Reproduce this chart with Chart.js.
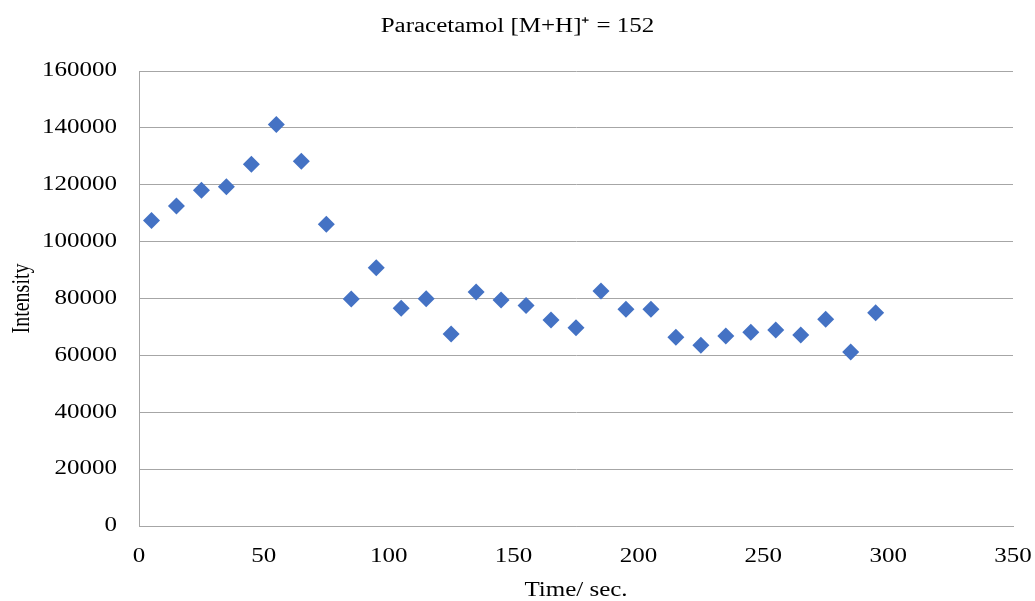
<!DOCTYPE html>
<html>
<head>
<meta charset="utf-8">
<script src="https://cdn.jsdelivr.net/npm/chart.js@4.4.1/dist/chart.umd.min.js"></script>
<style>
html,body{margin:0;padding:0;background:#fff;}
#wrap{width:1035px;height:601px;position:relative;}
</style>
</head>
<body>
<div id="wrap"><canvas id="c" width="1035" height="601"></canvas></div>
<script>
const timeSec = [5, 15, 25, 35, 45, 55, 65, 75, 85, 95, 105, 115, 125, 135, 145, 155, 165, 175, 185, 195, 205, 215, 225, 235, 245, 255, 265, 275, 285, 295];
const intensity = [107400, 112500, 118100, 119300, 127200, 141200, 128300, 106100, 79800, 90800, 76600, 79900, 67500, 82300, 79500, 77500, 72400, 69700, 82600, 76200, 76200, 66400, 63600, 66800, 68100, 68900, 67200, 72700, 61200, 75000];
const xTicks = [0, 50, 100, 150, 200, 250, 300, 350];
const yTicks = [0, 20000, 40000, 60000, 80000, 100000, 120000, 140000, 160000];
const chartTitle = 'Paracetamol [M+H]\u207A = 152';
const xTitle = 'Time/ sec.';
const yTitle = 'Intensity';

// Reference text is rendered horizontally widened; stretch glyphs in screen-x around their anchor.
const SX = 1.25;
const origFill = CanvasRenderingContext2D.prototype.fillText;
CanvasRenderingContext2D.prototype.fillText = function(text, x, y, maxWidth) {
  const m = this.getTransform();
  const p = m.transformPoint(new DOMPoint(x, y));
  this.save();
  this.setTransform(new DOMMatrix().translate(p.x, p.y).scale(SX, 1).translate(-p.x, -p.y).multiply(m));
  origFill.call(this, text, x, y);
  this.restore();
};

const FONT = "'Liberation Serif', 'Times New Roman', serif";
const grey = '#a6a6a6';

new Chart(document.getElementById('c'), {
  type: 'scatter',
  data: {
    datasets: [{
      label: 'Intensity',
      data: timeSec.map((t, i) => ({x: t, y: intensity[i]})),
      pointStyle: 'rectRot',
      pointRadius: 8.5,
      pointHoverRadius: 8.5,
      backgroundColor: '#4472C4',
      borderColor: '#4472C4',
      borderWidth: 0
    }]
  },
  options: {
    responsive: false,
    animation: false,
    events: [],
    layout: {padding: {left: 0, right: 0, top: 0, bottom: 0}},
    plugins: {
      legend: {display: false},
      tooltip: {enabled: false},
      title: {
        display: true,
        text: chartTitle,
        color: '#000',
        font: {family: FONT, size: 20, weight: 'normal', lineHeight: 1.2},
        padding: {top: 15, bottom: 32}
      }
    },
    scales: {
      x: {
        type: 'linear',
        min: 0, max: 350,
        afterBuildTicks: s => { s.ticks = xTicks.map(v => ({value: v})); },
        afterFit: s => { s.height = 75; s.paddingLeft = 0; s.paddingRight = 22; },
        grid: {display: false, drawTicks: false},
        border: {display: true, color: grey, width: 1},
        ticks: {color: '#000', padding: 19, maxRotation: 0, font: {family: FONT, size: 20, lineHeight: 1.2}},
        title: {display: true, text: xTitle, color: '#000', font: {family: FONT, size: 20, lineHeight: 1}, padding: {top: 0, bottom: 0}}
      },
      y: {
        type: 'linear',
        min: 0, max: 160000,
        afterBuildTicks: s => { s.ticks = yTicks.map(v => ({value: v})); },
        afterFit: s => { s.width = 139; s.paddingTop = 0; s.paddingBottom = 0; },
        grid: {display: true, drawTicks: false, color: grey, lineWidth: 1},
        border: {display: true, color: grey, width: 1},
        ticks: {color: '#000', padding: 22, callback: v => String(v), font: {family: FONT, size: 20, lineHeight: 1.2}},
        title: {display: true, text: yTitle, color: '#000', font: {family: FONT, size: 20, lineHeight: 1}, padding: {top: 12, bottom: 0}}
      }
    }
  }
});
</script>
</body>
</html>
